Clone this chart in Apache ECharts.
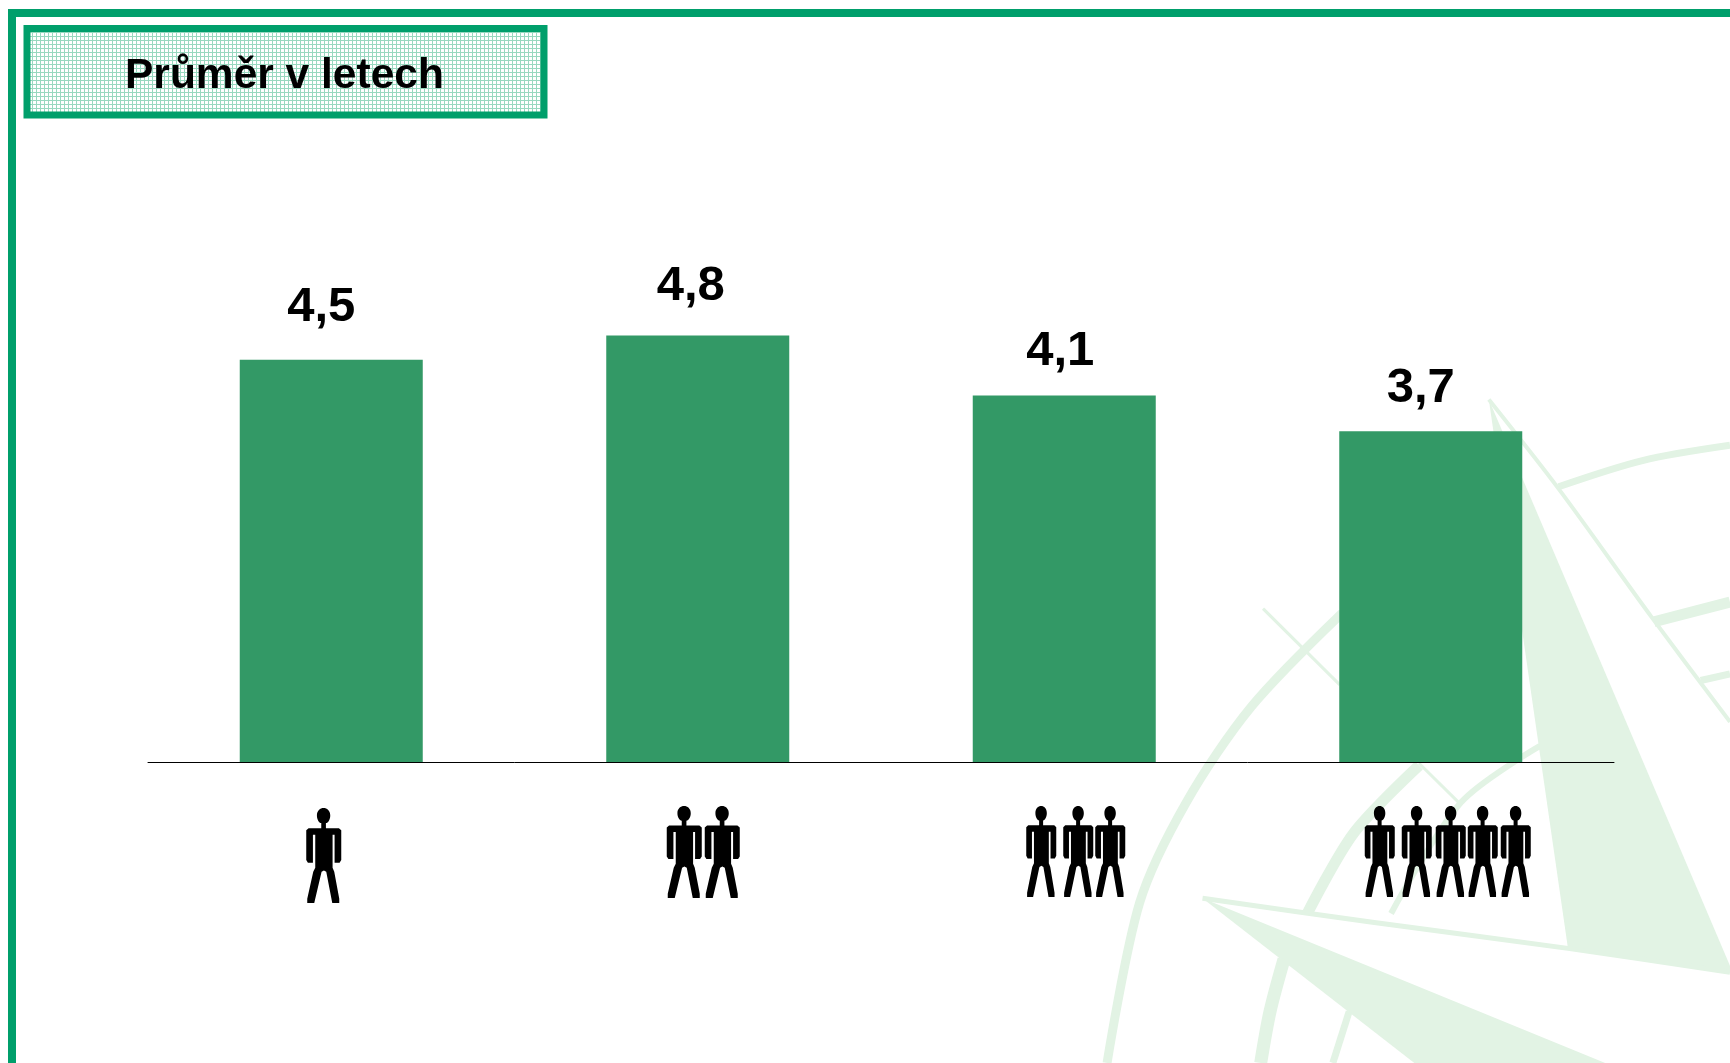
<!DOCTYPE html>
<html><head><meta charset="utf-8">
<style>html,body{margin:0;padding:0;background:#fff}#c{width:1730px;height:1063px}</style>
<script src="https://cdn.jsdelivr.net/npm/echarts@6/dist/echarts.min.js"></script>
</head><body><div id="c"></div>
<script>
const categories = ['1 osoba','2 osoby','3 osoby','5 osob'];
const values = [4.5,4.77,4.1,3.7];
const peopleCounts = [1,2,3,5];
const titleText = 'Průměr v letech';

const GREEN='#009f6b', BAR='#339966', WM='#e2f3e4';
const labelOffsets=[[-10,0],[-7,3],[-4,9],[-10,10]];
const chart = echarts.init(document.getElementById('c'),null,{renderer:'canvas'});

function patternCanvas(){
  const c=document.createElement('canvas');c.width=4;c.height=4;
  const g=c.getContext('2d');g.fillStyle='#ffffff';g.fillRect(0,0,4,4);
  g.fillStyle='#98d8bf';g.fillRect(0,0,4,1);g.fillRect(0,0,1,4);
  return c;
}
const Z=(x,y)=>[1000+x/2.148,380+y/2.296];
const poly=(pts,fill)=>({type:'polygon',z:0,silent:true,shape:{points:pts.map(p=>Z(p[0],p[1]))},style:{fill,stroke:null}});
const line=(pts,w,col)=>({type:'polyline',z:0,silent:true,shape:{points:pts.map(p=>Z(p[0],p[1])),smooth:0.3},style:{stroke:col||WM,lineWidth:w,fill:null}});
const watermark=[
 poly([[1050,45],[1220,1305],[1568,1362],[1568,1345]],WM),
 poly([[435,1190],[1300,1568],[890,1568]],WM),
 line([[1050,45],[1200,250],[1400,545],[1568,785]],4),
 line([[435,1190],[800,1245],[1220,1305],[1568,1360]],5),
 line([[565,525],[730,700]],3),
 line([[900,880],[990,975]],3),
 line([[735,535],[540,750],[400,970],[300,1200],[230,1568]],9),
 line([[900,885],[760,1040],[660,1225]],11),
 line([[610,1330],[580,1450],[560,1568]],13),
 line([[1160,840],[990,970],[840,1225]],6),
 line([[750,1450],[715,1568]],7),
 line([[1200,245],[1380,185],[1568,150]],7),
 line([[1405,555],[1568,510]],11),
 line([[1505,690],[1568,675]],7)
];

// person silhouette, 105 x 285 units
const PERSON='M32 22 C32 8 42 0 52 0 C62 0 72 8 72 22 C72 34 66 44 59 45 L59 60 L98 60 L105 66 L105 155 L100 163 L85 163 L85 80 L79 80 L79 178 L84 190 L99 270 L99 283 L78 283 L60 190 L53 186 L46 190 L24 283 L3 283 L3 270 L21 190 L27 178 L27 80 L20 80 L20 163 L5 163 L0 155 L0 66 L7 60 L45 60 L45 45 C38 44 32 34 32 22 Z';
// left edge of each figure relative to the bar-band centre, width, top (relative to axis) and height
const figLayout={
 1:{x:[-25],w:35,top:46,h:95},
 2:{x:[-31,7],w:35,top:44,h:92},
 3:{x:[-38,-1,31],w:30,top:44,h:91},
 5:{x:[-66,-29,5,37,70],w:30,top:44,h:91}
};

const option={
 animation:false,
 backgroundColor:'#ffffff',
 title:{text:titleText,left:125,top:55,textStyle:{fontFamily:'Liberation Sans',fontWeight:'bold',fontSize:42.5,color:'#000'},padding:0},
 grid:{left:148,right:116,top:315,height:447,containLabel:false},
 xAxis:{type:'category',data:categories,axisTick:{show:false},axisLabel:{show:false},axisLine:{show:true,lineStyle:{color:'#000',width:1}}},
 yAxis:{type:'value',min:0,max:5,show:false,splitLine:{show:false}},
 graphic:{elements:[
  ...watermark,
  {type:'rect',z:1,silent:true,shape:{x:8,y:9,width:1722,height:8},style:{fill:GREEN}},
  {type:'rect',z:1,silent:true,shape:{x:8,y:9,width:8,height:1054},style:{fill:GREEN}},
  {type:'rect',z:1,silent:true,shape:{x:27,y:28.5,width:517,height:86.5},style:{fill:{image:patternCanvas(),repeat:'repeat'},stroke:GREEN,lineWidth:7}}
 ]},
 series:[
  {type:'bar',barWidth:183,itemStyle:{color:BAR},z:3,
   data:values.map((v,i)=>({value:v,label:{offset:labelOffsets[i]}})),
   label:{show:true,position:'top',distance:28,fontFamily:'Liberation Sans',fontWeight:'bold',fontSize:49,color:'#000',
    formatter:p=>p.value.toFixed(1).replace('.',',')}},
  {type:'custom',data:peopleCounts.map((n,i)=>[i,n]),z:4,silent:true,
   renderItem:(params,api)=>{
     const base=api.coord([api.value(0),0]);
     const f=figLayout[api.value(1)];
     return {type:'group',children:f.x.map(dx=>({type:'path',shape:{pathData:PERSON,layout:'cover',x:base[0]+dx,y:base[1]+f.top,width:f.w,height:f.h},style:{fill:'#000'}}))};
   }}
 ]
};
chart.setOption(option);
</script></body></html>
